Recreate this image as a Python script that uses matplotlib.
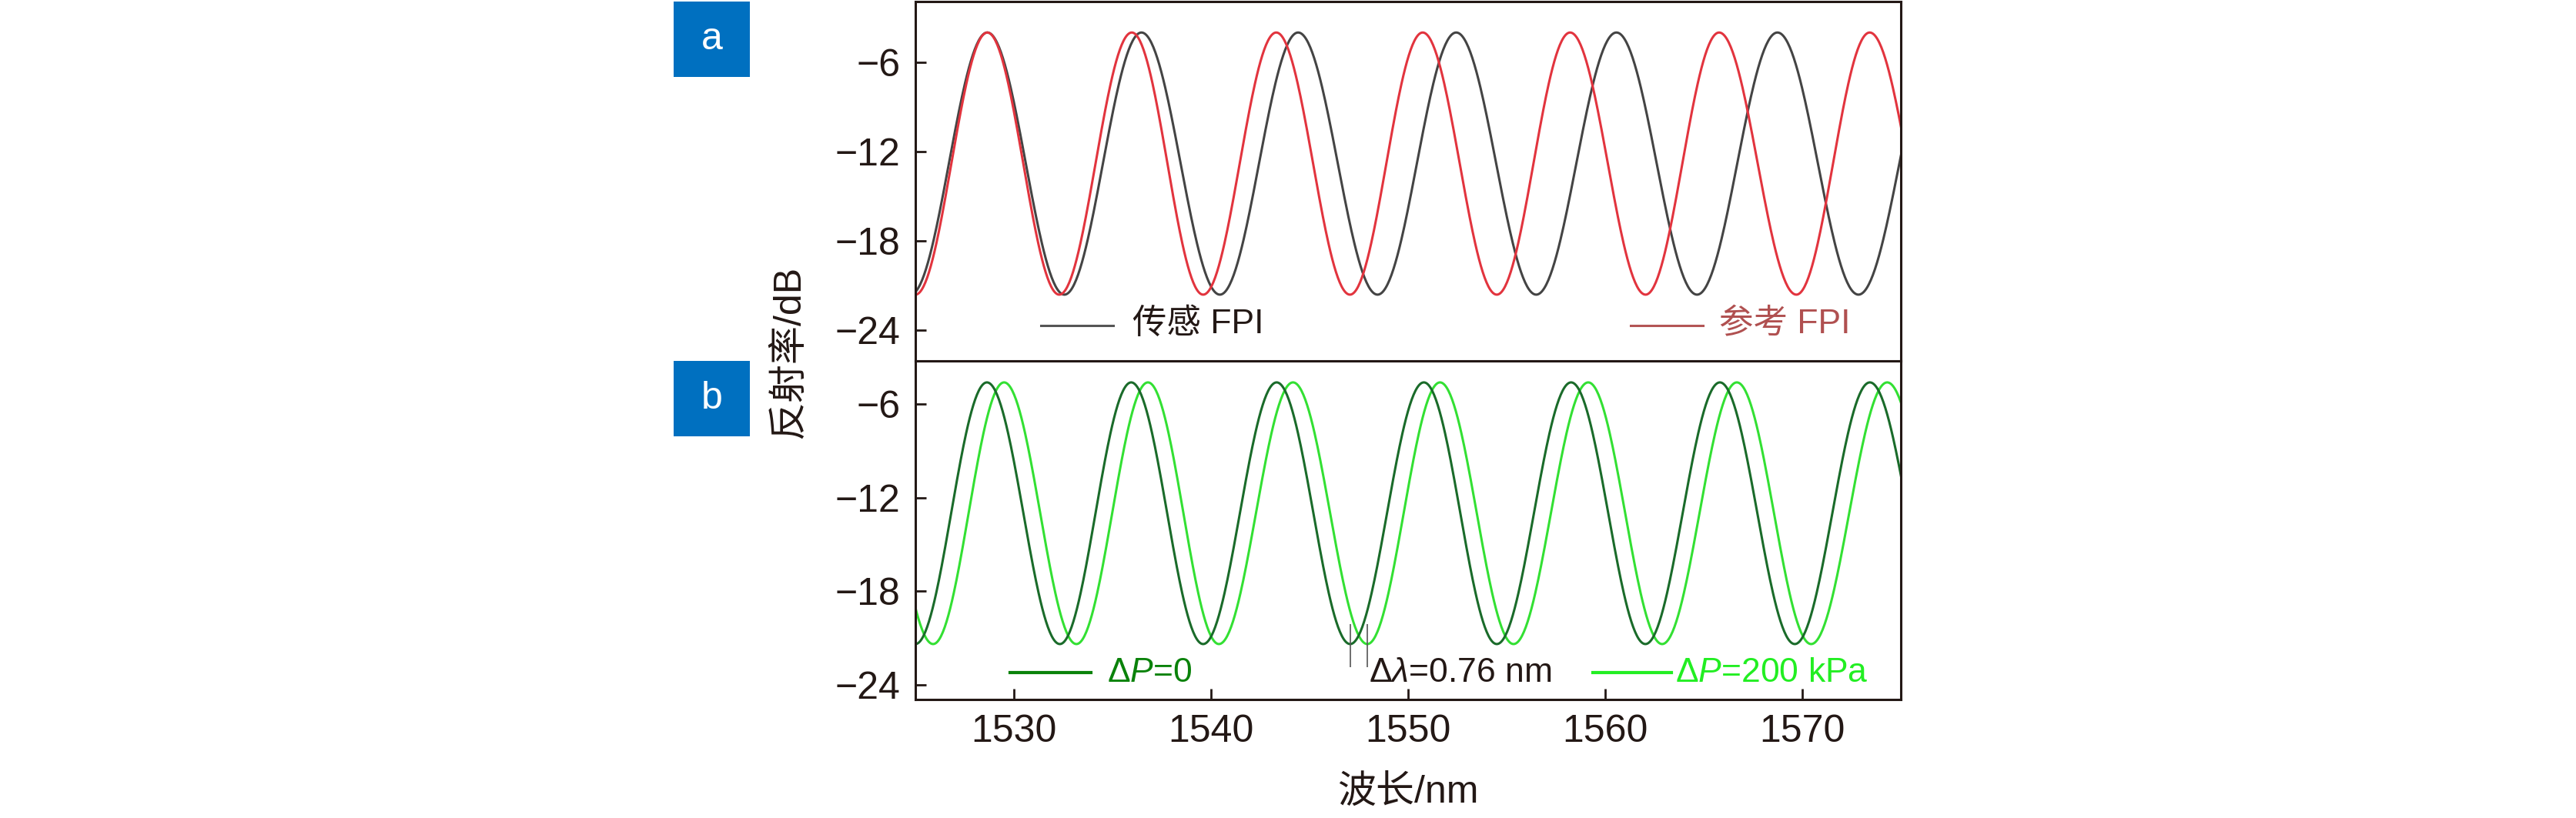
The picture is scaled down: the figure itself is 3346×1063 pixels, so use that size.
import numpy as np
import matplotlib
matplotlib.use('Agg')
import matplotlib.pyplot as plt
from matplotlib.patches import Rectangle
from matplotlib.lines import Line2D

plt.rcParams['font.family'] = ['Liberation Sans', 'Noto Sans CJK SC', 'DejaVu Sans']
plt.rcParams['mathtext.fontset'] = 'custom'
plt.rcParams['mathtext.rm'] = 'Liberation Sans'
plt.rcParams['mathtext.it'] = 'Liberation Sans:italic'
plt.rcParams['axes.unicode_minus'] = True

# panel a: peak / trough wavelengths (nm)
sens_peaks = [1528.65, 1536.47, 1544.42, 1552.44, 1560.57, 1568.74, 1577.0]
sens_troughs = [1524.75, 1532.56, 1540.45, 1548.45, 1556.5, 1564.66, 1572.85]
ref_peaks = [1528.65, 1535.98, 1543.31, 1550.74, 1558.22, 1565.78, 1573.42]
ref_troughs = [1525.0, 1532.3, 1539.6, 1547.05, 1554.5, 1562.05, 1569.7, 1577.3]
a_top, a_bottom = -4.0, -21.6

# panel b: dP = 0 and dP = 200 kPa
p0_peaks = [1528.63, 1535.95, 1543.33, 1550.8, 1558.27, 1565.82, 1573.43]
p0_troughs = [1525.0, 1532.33, 1539.6, 1547.06, 1554.5, 1562.04, 1569.62, 1577.3]
p200_peaks = [1522.2, 1529.5, 1536.8, 1544.16, 1551.62, 1559.14, 1566.68, 1574.31]
p200_troughs = [1525.9, 1533.17, 1540.4, 1547.93, 1555.35, 1562.89, 1570.45, 1578.2]
b_top, b_bottom = -4.6, -21.4
shift_idx = 3  # trough pair marked with dlambda

xticks = [1530, 1540, 1550, 1560, 1570]
yticks = [-6, -12, -18, -24]

ink = '#231815'


def fringe(peaks, troughs, top, bottom):
    # join the read extrema with half-cosine arcs
    pts = sorted([(p, top) for p in peaks] + [(t, bottom) for t in troughs])
    xs, ys = [], []
    for (x0, y0), (x1, y1) in zip(pts[:-1], pts[1:]):
        t = np.linspace(0, 1, 80)
        xs.append(x0 + (x1 - x0) * t)
        ys.append(y0 + (y1 - y0) * (1 - np.cos(np.pi * t)) / 2)
    return np.concatenate(xs), np.concatenate(ys)


W, H = 3346, 1063
fig = plt.figure(figsize=(W / 100, H / 100), dpi=100)

x0, x1 = 1189, 2469
ax_a = fig.add_axes([x0 / W, 1 - 469 / H, (x1 - x0) / W, 467 / H])
ax_b = fig.add_axes([x0 / W, 1 - 909 / H, (x1 - x0) / W, 440 / H])

for ax in (ax_a, ax_b):
    ax.set_xlim(1525, 1575)
    ax.set_yticks(yticks)
    for s in ax.spines.values():
        s.set_linewidth(2.2)
        s.set_color(ink)
    ax.tick_params(direction='in', length=10, width=2, colors=ink,
                   labelsize=36, pad=14)
    ax.set_xticks(xticks)

ax_a.set_ylim(-26.05, -1.92)
ax_b.set_ylim(-24.96, -3.22)
ax_a.tick_params(axis='x', bottom=False, labelbottom=False)

# panel a curves
x, y = fringe(sens_peaks, sens_troughs, a_top, a_bottom)
ax_a.plot(x, y, color='#444444', lw=2.2)
x, y = fringe(ref_peaks, ref_troughs, a_top, a_bottom)
ax_a.plot(x, y, color='#e2343e', lw=2.2)

# panel b curves
x, y = fringe(p200_peaks, p200_troughs, b_top, b_bottom)
ax_b.plot(x, y, color='#33e033', lw=2.2)
x, y = fringe(p0_peaks, p0_troughs, b_top, b_bottom)
ax_b.plot(x, y, color='#1a6b2a', lw=2.2)

# shift markers
ax_b.vlines([p0_troughs[shift_idx], p200_troughs[shift_idx]], -22.9, -20.1,
            colors='#555555', lw=1.2)

# legend-like labels
ax_a.add_line(Line2D([1531.36, 1535.04], [-23.65, -23.65], color='#555555', lw=2.2))
ax_a.text(1536.0, -24.2, '传感 FPI', fontsize=32, color=ink, va='baseline')
ax_a.add_line(Line2D([1561.27, 1564.95], [-23.65, -23.65], color='#b35555', lw=2.2))
ax_a.text(1565.77, -24.2, '参考 FPI', fontsize=32, color='#b05050', va='baseline')

ax_b.add_line(Line2D([1529.79, 1533.89], [-23.23, -23.23], color='#0a820a', lw=3))
ax_b.text(1534.74, -23.83, r'Δ$\mathit{P}$=0', fontsize=32, color='#0a820a', va='baseline')
ax_b.text(1548.02, -23.83, r'Δ$\mathit{λ}$=0.76 nm', fontsize=32, color=ink, va='baseline')
ax_b.add_line(Line2D([1559.36, 1563.35], [-23.23, -23.23], color='#22ee22', lw=3))
ax_b.text(1563.55, -23.83, r'Δ$\mathit{P}$=200 kPa', fontsize=32, color='#22ee22', va='baseline')

# axis titles
fig.text(1025 / W, 1 - 457 / H, '反射率/dB', rotation=90, fontsize=36, color=ink,
         ha='center', va='center')
fig.text(1829 / W, 1 - 1030 / H, '波长/nm', fontsize=36, color=ink,
         ha='center', va='center')

# panel tags
for lab, top in (('a', 2), ('b', 469)):
    fig.add_artist(Rectangle((875 / W, 1 - (top + 98) / H), 99 / W, 98 / H,
                             transform=fig.transFigure, facecolor='#0070c0',
                             edgecolor='none'))
    fig.text(924.5 / W, 1 - (top + 49) / H, lab, fontsize=36, color='white',
             ha='center', va='center')

fig.savefig('out.png', dpi=100)
